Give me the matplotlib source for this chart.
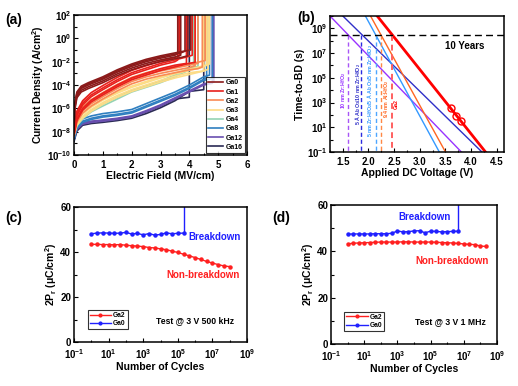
import numpy as np
import matplotlib
matplotlib.use("Agg")
import matplotlib.pyplot as plt
from matplotlib.ticker import FixedLocator, NullFormatter
from matplotlib.lines import Line2D

plt.rcParams['font.family'] = ['Liberation Sans', 'DejaVu Sans']
plt.rcParams['font.weight'] = 'bold'
plt.rcParams['axes.labelweight'] = 'bold'
plt.rcParams['mathtext.fontset'] = 'custom'
plt.rcParams['mathtext.rm'] = 'Liberation Sans:bold'
plt.rcParams['mathtext.bf'] = 'Liberation Sans:bold'
plt.rcParams['mathtext.it'] = 'Liberation Sans:italic:bold'
plt.rcParams['mathtext.default'] = 'rm'


# (a) J-E curves : base curve (E, log10 J), offsets (decades) and breakdown fields per device
ga_names = ["Ga0", "Ga1", "Ga2", "Ga3", "Ga4", "Ga8", "Ga12", "Ga16"]
ga_colors = ["#8b1a1a", "#e8201c", "#f98a55", "#fddc86", "#93d3b4", "#2f7fc0", "#6a4fb0", "#2b2b55"]

ga_E = [
    [0, 0.03, 0.1, 0.25, 0.5, 1.0, 1.5, 2.0, 2.5, 3.0, 3.5, 3.7, 4.1],
    [0, 0.1, 0.3, 0.6, 1.0, 1.5, 2.0, 2.5, 3.0, 3.5, 3.9, 4.2],
    [0, 0.1, 0.3, 0.6, 1.0, 1.5, 2.0, 2.5, 3.0, 3.5, 4.0, 4.3, 4.55],
    [0, 0.1, 0.3, 0.6, 1.0, 1.5, 2.0, 2.5, 3.0, 3.5, 4.0, 4.5, 4.7],
    [0, 0.1, 0.3, 0.6, 1.0, 1.5, 2.0, 2.5, 3.0, 3.5, 4.0, 4.3],
    [0, 0.1, 0.3, 0.6, 1.0, 1.5, 2.0, 2.5, 3.0, 3.5, 4.0, 4.5, 4.8],
    [0, 0.1, 0.3, 0.6, 1.0, 1.5, 2.0, 2.5, 3.0, 3.5, 4.0, 4.5, 4.85],
    [0, 0.1, 0.3, 0.6, 1.0, 1.5, 2.0, 2.5, 3.0, 3.5, 4.0, 4.5],
]
ga_logJ = [
    [-7.5, -5.8, -4.8, -4.3, -4.0, -3.5, -2.9, -2.4, -2.0, -1.7, -1.45, -1.35, -1.2],
    [-7.9, -6.6, -5.7, -5.0, -4.4, -3.7, -3.1, -2.7, -2.3, -2.0, -1.75, -1.6],
    [-8.0, -7.0, -6.2, -5.6, -5.0, -4.3, -3.7, -3.3, -3.0, -2.75, -2.5, -2.4, -2.3],
    [-8.2, -7.3, -6.7, -6.1, -5.5, -4.9, -4.4, -4.0, -3.6, -3.25, -2.95, -2.65, -2.5],
    [-8.4, -7.5, -6.9, -6.3, -5.8, -5.2, -4.6, -4.2, -3.8, -3.3, -2.7, -2.3],
    [-8.6, -7.6, -7.1, -6.85, -6.65, -6.5, -6.3, -5.8, -5.3, -4.8, -4.2, -3.5, -2.8],
    [-8.7, -7.8, -7.35, -7.2, -7.1, -6.95, -6.75, -6.3, -5.8, -5.2, -4.6, -4.0, -3.4],
    [-8.8, -7.9, -7.4, -7.25, -7.15, -7.0, -6.8, -6.4, -5.9, -5.3, -4.5, -3.9],
]
ga_offsets = [
    [0, -0.15, 0.1, -0.3, 0.2],
    [0, 0.35, -0.3, 0.15, -0.45],
    [0, 0.2, -0.2, 0.35],
    [0, 0.2, -0.15, 0.3],
    [0, 0.15],
    [0, 0.2, -0.1],
    [0, 0.1],
    [0.1, -0.05],
]
ga_bd = [
    [3.6, 3.7, 3.85, 3.95, 4.05],
    [3.6, 3.65, 3.9, 4.1, 4.2],
    [4.2, 4.3, 4.45, 4.55],
    [4.5, 4.6, 4.65, 4.7],
    [4.15, 4.3],
    [4.6, 4.7, 4.8],
    [4.8, 4.85],
    [4.0, 4.5],
]

# (b) time-to-breakdown lines: voltage at t = 1e10 s and at t = 0.1 s
tbd_labels = ["10 nm Zr:HfO$_2$", "5 Å Al$_2$O$_3$/10 nm Zr:HfO$_2$",
              "5 nm Zr:HfO$_2$/5 Å Al$_2$O$_3$/5 nm Zr:HfO$_2$", "9.4 nm Al:HfO$_2$", "Ga2"]
tbd_colors = ["#9933ff", "#3030c8", "#3399ff", "#ff6622", "#ff0000"]
tbd_dash_colors = ["#a855f7", "#2b2be0", "#4da6ff", "#ff8844", "#ff6060"]
tbd_v_top = [1.25, 1.50, 1.94, 2.04, 2.17]
tbd_v_bot = [3.81, 4.21, 3.38, 3.50, 4.28]
tbd_t_ends = [1e10, 1e-1]
tbd_v10y = [1.60, 1.86, 2.14, 2.24, 2.45]
tbd_lbl_x = [1.51, 1.79, 2.03, 2.35, 2.54]
tbd_lbl_y = [1e4, 5e3, 1e4, 2e3, 8e2]
ga2_meas_v = [3.6, 3.7, 3.8]
ga2_meas_t = [3.3e2, 8e1, 3.5e1]
ten_years = 3.15e8

# (c), (d) endurance
cycles = [1, 2.15, 4.64, 1e1, 2.15e1, 4.64e1, 1e2, 2.15e2, 4.64e2, 1e3, 2.15e3, 4.64e3,
          1e4, 2.15e4, 4.64e4, 1e5, 2.15e5, 4.64e5, 1e6, 2.15e6, 4.64e6, 1e7, 2.15e7,
          4.64e7, 1e8, 2.15e8]
pr_c_ga2 = [43.4, 43.4, 43.3, 43.3, 43.2, 43.3, 43.0, 42.8, 42.6, 42.4, 42.0, 41.8, 41.4,
            41.0, 40.4, 39.8, 39.0, 38.3, 37.5, 36.7, 35.8, 35.1, 34.4, 33.8, 33.5]
pr_c_ga0 = [48.1, 48.4, 48.5, 48.4, 48.3, 48.4, 48.7, 48.0, 48.3, 47.6, 48.2, 47.5, 47.8,
            48.5, 48.1, 48.3, 48.4]
pr_d_ga2 = [43.2, 43.5, 43.6, 43.7, 43.8, 43.9, 44.0, 44.0, 44.0, 44.0, 44.1, 44.1, 44.0,
            44.0, 44.0, 44.0, 43.9, 43.8, 43.7, 43.6, 43.4, 43.2, 43.0, 42.9, 42.3, 42.1]
pr_d_ga0 = [47.4, 47.5, 47.5, 47.5, 47.5, 47.6, 47.6, 47.6, 47.8, 48.8, 48.4, 48.5, 48.8,
            48.9, 48.0, 48.7, 48.6, 48.4, 48.5, 48.6, 48.7]

RED = "#ff2020"
BLUE = "#2020ff"

W, H = 518, 386
fig = plt.figure(figsize=(W / 100, H / 100), dpi=100)


def px_axes(x0, y0, x1, y1):
    return fig.add_axes([x0 / W, 1 - y1 / H, (x1 - x0) / W, (y1 - y0) / H])


def style(ax):
    for s in ax.spines.values():
        s.set_linewidth(1.1)
    ax.tick_params(which='both', direction='in', width=0.8, labelsize=7, pad=2)
    ax.tick_params(axis='x', which='both', pad=3.5)
    ax.tick_params(which='major', length=3)
    ax.tick_params(which='minor', length=1.8)


# ---------------- (a)
ax = px_axes(74, 15, 247, 155)
for g in reversed(range(len(ga_names))):
    E = np.array(ga_E[g])
    L = np.array(ga_logJ[g])
    for off, bd in zip(ga_offsets[g], ga_bd[g]):
        keep = E < bd
        xs = list(E[keep]) + [bd, bd]
        ys = list(L[keep] + off) + [L[keep][-1] + off + 0.15, 2.5]
        ax.plot(xs, 10.0 ** np.array(ys), color=ga_colors[g], lw=1.2)
ax.set_yscale('log')
ax.set_xlim(0, 6)
ax.set_ylim(1e-10, 1e2)
ax.yaxis.set_major_locator(FixedLocator([10.0 ** p for p in range(-10, 3, 2)]))
ax.yaxis.set_minor_locator(FixedLocator([10.0 ** p for p in range(-9, 2, 2)]))
ax.yaxis.set_minor_formatter(NullFormatter())
ax.set_xticks(range(0, 7))
ax.set_xticks(np.arange(0.5, 6, 1.0), minor=True)
style(ax)
ax.set_xlabel("Electric Field (MV/cm)", fontsize=7.5, labelpad=1)
ax.set_ylabel("Current Density (A/cm$^2$)", fontsize=7.5, labelpad=1)
handles = [Line2D([], [], color=c, lw=1.2) for c in ga_colors]
leg = ax.legend(handles, ga_names, loc='lower right', fontsize=5, frameon=True,
                fancybox=False, edgecolor='black', handlelength=2.2, labelspacing=0.32,
                borderpad=0.3, handletextpad=0.4, borderaxespad=0.3)
leg.get_frame().set_linewidth(0.8)
fig.text(5 / W, 1 - 20 / H, "(a)", fontsize=10, fontweight='bold', va='center')

# ---------------- (b)
ax = px_axes(330, 16, 504, 152)
for i in range(len(tbd_labels)):
    lw = 2.0 if i == 4 else 1.0
    ax.plot([tbd_v_top[i], tbd_v_bot[i]], tbd_t_ends, color=tbd_colors[i], lw=lw)
    ax.plot([tbd_v10y[i], tbd_v10y[i]], [ten_years, 1e-1], color=tbd_dash_colors[i],
            lw=1.4 if i == 4 else 1.0, dashes=(3, 2))
    ax.text(tbd_lbl_x[i], tbd_lbl_y[i], tbd_labels[i], rotation=90, fontsize=3.8,
            color=tbd_colors[i], ha='center', va='center', fontweight='bold')
ax.axhline(ten_years, color='black', lw=1.0, dashes=(5, 3))
ax.plot(ga2_meas_v, ga2_meas_t, 'o', mfc='none', mec='#ff0000', ms=5, mew=1.0)
ax.text(3.87, 3.5e7, "10 Years", fontsize=7, fontweight='bold', ha='center', va='center')
ax.set_yscale('log')
ax.set_xlim(1.25, 4.64)
ax.set_ylim(1e-1, 1e10)
ax.yaxis.set_major_locator(FixedLocator([10.0 ** p for p in range(-1, 10, 2)]))
ax.yaxis.set_minor_locator(FixedLocator([10.0 ** p for p in range(0, 11, 2)]))
ax.yaxis.set_minor_formatter(NullFormatter())
ax.set_xticks(np.arange(1.5, 4.6, 0.5))
ax.set_xticks(np.arange(1.25, 4.6, 0.5), minor=True)
style(ax)
ax.set_xlabel("Applied DC Voltage (V)", fontsize=7.5, labelpad=1)
ax.set_ylabel("Time-to-BD (s)", fontsize=7.5, labelpad=1)
fig.text(297 / W, 1 - 18 / H, "(b)", fontsize=10, fontweight='bold', va='center')


# ---------------- (c), (d)
def endurance(ax, ga2, ga0, texts):
    n2, n0 = len(ga2), len(ga0)
    ax.plot(cycles[:n2], ga2, '-o', color=RED, ms=2.2, lw=1.0, label="Ga2")
    ax.plot(cycles[:n0], ga0, '-o', color=BLUE, ms=2.2, lw=1.0, label="Ga0")
    ax.plot([cycles[n0 - 1], cycles[n0 - 1]], [ga0[-1], 60], color=BLUE, lw=1.0)
    ax.set_xscale('log')
    ax.set_xlim(1e-1, 1e9)
    ax.set_ylim(0, 60)
    ax.xaxis.set_major_locator(FixedLocator([10.0 ** p for p in range(-1, 10, 2)]))
    ax.xaxis.set_minor_locator(FixedLocator([10.0 ** p for p in range(0, 9, 2)]))
    ax.xaxis.set_minor_formatter(NullFormatter())
    ax.set_yticks([0, 20, 40, 60])
    ax.set_yticks([10, 30, 50], minor=True)
    style(ax)
    ax.set_xlabel("Number of Cycles", fontsize=7.5, labelpad=1)
    ax.set_ylabel(r"2$P_r$ ($\mu$C/cm$^2$)", fontsize=7.5, labelpad=1)
    for (x, y, s, c, fs) in texts:
        ax.text(x, y, s, color=c, fontsize=fs, fontweight='bold', ha='center', va='center')
    leg = ax.legend(loc='lower left', bbox_to_anchor=(0.06, 0.07), fontsize=4.8,
                    frameon=True, fancybox=False, edgecolor='black', handlelength=3.2,
                    labelspacing=0.2, borderpad=0.3, handletextpad=0.3, markerscale=0.9)
    leg.get_frame().set_linewidth(0.8)


ax = px_axes(74, 207, 247, 342)
endurance(ax, pr_c_ga2, pr_c_ga0,
          [(1.3e7, 46.6, "Breakdown", BLUE, 7),
           (2.8e6, 29.7, "Non-breakdown", RED, 7),
           (1.0e6, 9.4, "Test @ 3 V 500 kHz", 'black', 6.2)])
fig.text(5 / W, 1 - 218 / H, "(c)", fontsize=10, fontweight='bold', va='center')

ax = px_axes(331, 205, 497, 344)
endurance(ax, pr_d_ga2, pr_d_ga0,
          [(4.2e4, 54.7, "Breakdown", BLUE, 7),
           (1.9e6, 36.0, "Non-breakdown", RED, 7),
           (1.5e6, 9.6, "Test @ 3 V 1 MHz", 'black', 6.2)])
fig.text(272 / W, 1 - 218 / H, "(d)", fontsize=10, fontweight='bold', va='center')

fig.savefig("out.png", dpi=100)
